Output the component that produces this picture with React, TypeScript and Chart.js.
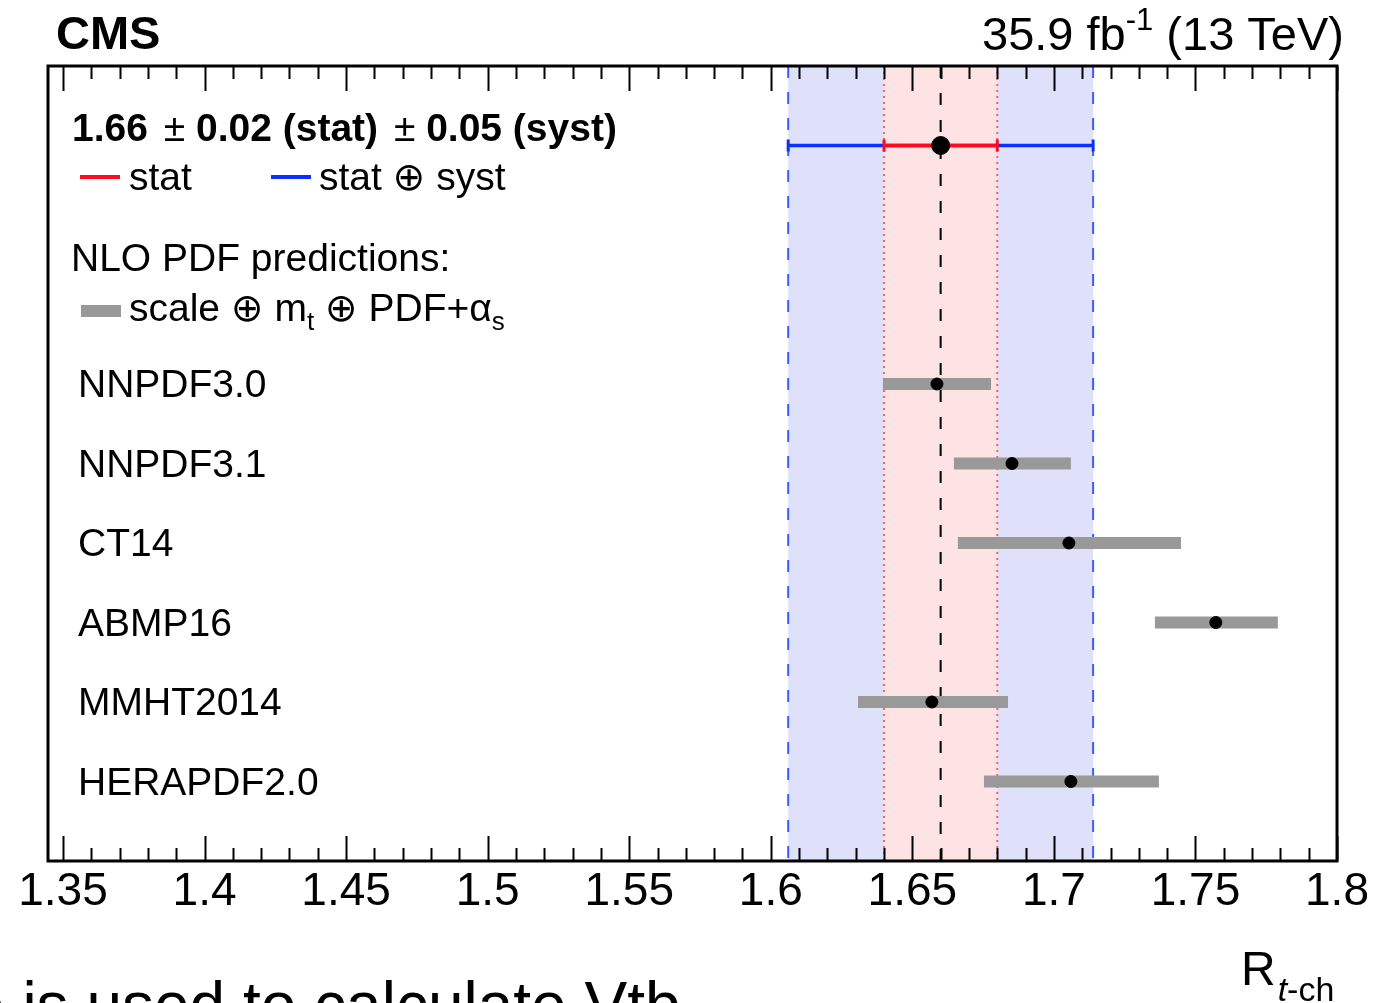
import React, { useEffect, useRef } from "react";
import { Chart, registerables } from "chart.js";
Chart.register(...registerables);

// ---------------- data ----------------
const PDF_NAMES = ["NNPDF3.0", "NNPDF3.1", "CT14", "ABMP16", "MMHT2014", "HERAPDF2.0"];
const PDF_ROWS = [6, 5, 4, 3, 2, 1];
const PDF_CENTRAL = [1.6587, 1.6852, 1.7053, 1.7572, 1.6569, 1.706];
const PDF_LOW = [1.6396, 1.6647, 1.6661, 1.7357, 1.6308, 1.6753];
const PDF_HIGH = [1.6778, 1.706, 1.7449, 1.7791, 1.6838, 1.7371];

const MEAS_VALUE = 1.66;
const MEAS_STAT = 0.02;
const MEAS_SYST = 0.05;
const MEAS_ROW = 9;
const MEAS_TOTAL = Math.sqrt(MEAS_STAT * MEAS_STAT + MEAS_SYST * MEAS_SYST);

const X_MIN = 1.3447;
const X_MAX = 1.8;
const Y_MIN = 0;
const Y_MAX = 10;
const TICK_VALUES = [1.35, 1.4, 1.45, 1.5, 1.55, 1.6, 1.65, 1.7, 1.75, 1.8];
const TICK_LABELS = ["1.35", "1.4", "1.45", "1.5", "1.55", "1.6", "1.65", "1.7", "1.75", "1.8"];
const MINOR_PER_MAJOR = 5;

// ---------------- style ----------------
const FONT = '"Liberation Sans", Arial, Helvetica, "DejaVu Sans", sans-serif';
const BLUE = "#0a30ff";
const RED = "#ff0a1e";
const BAND_BLUE = "#dfe1fb";
const BAND_RED = "#fde3e3";
const EDGE_BLUE = "#3d5cff";
const EDGE_RED = "#f2636d";
const GREY = "#999999";

type Run = { t: string; size: number; weight?: string; style?: string; dy?: number; dx?: number };

function runsWidth(ctx: CanvasRenderingContext2D, runs: Run[]) {
  let w = 0;
  for (const r of runs) {
    ctx.font = `${r.style || "normal"} ${r.weight || "normal"} ${r.size}px ${FONT}`;
    w += ctx.measureText(r.t).width + (r.dx || 0);
  }
  return w;
}

function drawRuns(ctx: CanvasRenderingContext2D, runs: Run[], x: number, y: number) {
  let cx = x;
  ctx.textAlign = "left";
  ctx.textBaseline = "alphabetic";
  for (const r of runs) {
    cx += r.dx || 0;
    ctx.font = `${r.style || "normal"} ${r.weight || "normal"} ${r.size}px ${FONT}`;
    ctx.fillText(r.t, cx, y + (r.dy || 0));
    cx += ctx.measureText(r.t).width;
  }
  return cx;
}

const decorPlugin = {
  id: "cmsDecor",
  beforeDatasetsDraw(chart: any) {
    const { ctx, chartArea: a, scales } = chart;
    const x = scales.x;
    ctx.save();
    const b1 = x.getPixelForValue(MEAS_VALUE - MEAS_TOTAL);
    const b2 = x.getPixelForValue(MEAS_VALUE + MEAS_TOTAL);
    const r1 = x.getPixelForValue(MEAS_VALUE - MEAS_STAT);
    const r2 = x.getPixelForValue(MEAS_VALUE + MEAS_STAT);
    const c = x.getPixelForValue(MEAS_VALUE);
    ctx.fillStyle = BAND_BLUE;
    ctx.fillRect(b1, a.top, b2 - b1, a.bottom - a.top);
    ctx.fillStyle = BAND_RED;
    ctx.fillRect(r1, a.top, r2 - r1, a.bottom - a.top);

    const vline = (px: number, color: string, width: number, dash: number[]) => {
      ctx.beginPath();
      ctx.setLineDash(dash);
      ctx.strokeStyle = color;
      ctx.lineWidth = width;
      ctx.moveTo(px, a.top);
      ctx.lineTo(px, a.bottom);
      ctx.stroke();
    };
    vline(b1, EDGE_BLUE, 2, [12, 14]);
    vline(b2, EDGE_BLUE, 2, [12, 14]);
    vline(r1, EDGE_RED, 2, [2, 4]);
    vline(r2, EDGE_RED, 2, [2, 4]);
    vline(c, "#000000", 2, [12, 15]);
    ctx.setLineDash([]);
    ctx.restore();
  },
  afterDraw(chart: any) {
    const { ctx, chartArea: a, scales } = chart;
    const x = scales.x;
    const y = scales.y;
    ctx.save();
    ctx.fillStyle = "#000";

    // frame
    ctx.strokeStyle = "#000";
    ctx.lineWidth = 3;
    ctx.strokeRect(a.left, a.top, a.right - a.left, a.bottom - a.top);

    // inward ticks top & bottom
    ctx.lineWidth = 2;
    const step = (TICK_VALUES[1] - TICK_VALUES[0]) / MINOR_PER_MAJOR;
    const n = Math.round((TICK_VALUES[TICK_VALUES.length - 1] - TICK_VALUES[0]) / step);
    for (let i = 0; i <= n; i++) {
      const v = TICK_VALUES[0] + i * step;
      const px = Math.round(x.getPixelForValue(v)) + 0.5;
      const len = i % MINOR_PER_MAJOR === 0 ? 25 : 13;
      ctx.beginPath();
      ctx.moveTo(px, a.top);
      ctx.lineTo(px, a.top + len);
      ctx.moveTo(px, a.bottom);
      ctx.lineTo(px, a.bottom - len);
      ctx.stroke();
    }

    // header
    drawRuns(ctx, [{ t: "CMS", size: 47, weight: "bold" }], 56, 49);
    const lumi: Run[] = [
      { t: "35.9 fb", size: 47 },
      { t: "-1", size: 31, dy: -20 },
      { t: " (13 TeV)", size: 47 },
    ];
    drawRuns(ctx, lumi, 1344 - runsWidth(ctx, lumi), 50);

    // measurement legend
    drawRuns(
      ctx,
      [
        { t: "1.66 ", size: 39, weight: "bold" },
        { t: "±", size: 39, dx: 5 },
        { t: " 0.02 (stat) ", size: 39, weight: "bold" },
        { t: "±", size: 39, dx: 5 },
        { t: " 0.05 (syst)", size: 39, weight: "bold" },
      ],
      72,
      141
    );
    ctx.lineWidth = 4;
    ctx.strokeStyle = RED;
    ctx.beginPath();
    ctx.moveTo(80, 177);
    ctx.lineTo(120, 177);
    ctx.stroke();
    drawRuns(ctx, [{ t: "stat", size: 39 }], 129, 190);
    ctx.strokeStyle = BLUE;
    ctx.beginPath();
    ctx.moveTo(271, 177);
    ctx.lineTo(311, 177);
    ctx.stroke();
    drawRuns(ctx, [{ t: "stat ⊕ syst", size: 39 }], 319, 190);

    drawRuns(ctx, [{ t: "NLO PDF predictions:", size: 39 }], 71, 271);
    ctx.fillStyle = GREY;
    ctx.fillRect(81, 305, 40, 12);
    ctx.fillStyle = "#000";
    drawRuns(
      ctx,
      [
        { t: "scale ⊕ m", size: 39 },
        { t: "t", size: 26, dy: 9 },
        { t: " ⊕ PDF+α", size: 39 },
        { t: "s", size: 26, dy: 9 },
      ],
      129,
      321
    );

    // PDF labels at their rows
    PDF_NAMES.forEach((name, i) => {
      drawRuns(ctx, [{ t: name, size: 39 }], 78, y.getPixelForValue(PDF_ROWS[i]) + 13);
    });

    // axis title
    const rx = drawRuns(ctx, [{ t: "R", size: 48 }], 1241, 985);
    const sx = drawRuns(ctx, [{ t: "t", size: 34, style: "italic" }], rx + 2, 1001);
    drawRuns(ctx, [{ t: "-ch", size: 34 }], sx, 1001);

    // page text cut off at bottom
    drawRuns(ctx, [{ t: "e is used to calculate Vtb", size: 64 }], -31, 1027);
    ctx.restore();
  },
};

export default function App() {
  const ref = useRef<HTMLCanvasElement | null>(null);
  useEffect(() => {
    if (!ref.current) return;
    const datasets: any[] = [];
    // measurement point
    datasets.push({
      label: "measurement",
      data: [{ x: MEAS_VALUE, y: MEAS_ROW }],
      pointRadius: 9,
      pointBackgroundColor: "#000",
      pointBorderColor: "#000",
      showLine: false,
      order: 0,
    });
    // PDF central points
    datasets.push({
      label: "pdf central",
      data: PDF_CENTRAL.map((v, i) => ({ x: v, y: PDF_ROWS[i] })),
      pointRadius: 6,
      pointBackgroundColor: "#000",
      pointBorderColor: "#000",
      showLine: false,
      order: 1,
    });
    // stat error
    datasets.push({
      label: "stat",
      data: [
        { x: MEAS_VALUE - MEAS_STAT, y: MEAS_ROW },
        { x: MEAS_VALUE + MEAS_STAT, y: MEAS_ROW },
      ],
      showLine: true,
      borderColor: RED,
      borderWidth: 3.5,
      pointStyle: "line",
      rotation: 90,
      pointRadius: 6,
      pointBorderWidth: 3,
      pointBorderColor: RED,
      order: 2,
    });
    // total error
    datasets.push({
      label: "stat+syst",
      data: [
        { x: MEAS_VALUE - MEAS_TOTAL, y: MEAS_ROW },
        { x: MEAS_VALUE + MEAS_TOTAL, y: MEAS_ROW },
      ],
      showLine: true,
      borderColor: BLUE,
      borderWidth: 3.5,
      pointStyle: "line",
      rotation: 90,
      pointRadius: 6,
      pointBorderWidth: 3,
      pointBorderColor: BLUE,
      order: 3,
    });
    // PDF uncertainty bars
    PDF_NAMES.forEach((name, i) => {
      datasets.push({
        label: name,
        data: [
          { x: PDF_LOW[i], y: PDF_ROWS[i] },
          { x: PDF_HIGH[i], y: PDF_ROWS[i] },
        ],
        showLine: true,
        borderColor: GREY,
        borderWidth: 12,
        borderCapStyle: "butt",
        pointRadius: 0,
        order: 4,
      });
    });

    const chart = new Chart(ref.current, {
      type: "scatter",
      data: { datasets },
      options: {
        animation: false,
        responsive: false,
        devicePixelRatio: 1,
        layout: { padding: { left: 48, right: 49, top: 66, bottom: 78.8 } },
        plugins: { legend: { display: false }, tooltip: { enabled: false } },
        scales: {
          x: {
            type: "linear",
            min: X_MIN,
            max: X_MAX,
            afterBuildTicks: (scale: any) => {
              scale.ticks = TICK_VALUES.map((v) => ({ value: v }));
            },
            ticks: {
              autoSkip: false,
              maxRotation: 0,
              minRotation: 0,
              padding: 4,
              color: "#000",
              font: { family: FONT, size: 46 },
              callback: (_v: any, i: number) => TICK_LABELS[i],
            },
            grid: { display: false, drawTicks: false },
            border: { display: false },
          },
          y: {
            type: "linear",
            min: Y_MIN,
            max: Y_MAX,
            display: false,
          },
        },
      } as any,
      plugins: [decorPlugin],
    });
    return () => chart.destroy();
  }, []);

  return (
    <div style={{ position: "fixed", left: 0, top: 0, width: 1386, height: 1003, background: "#fff" }}>
      <canvas ref={ref} width={1386} height={1003} style={{ display: "block" }} />
    </div>
  );
}
